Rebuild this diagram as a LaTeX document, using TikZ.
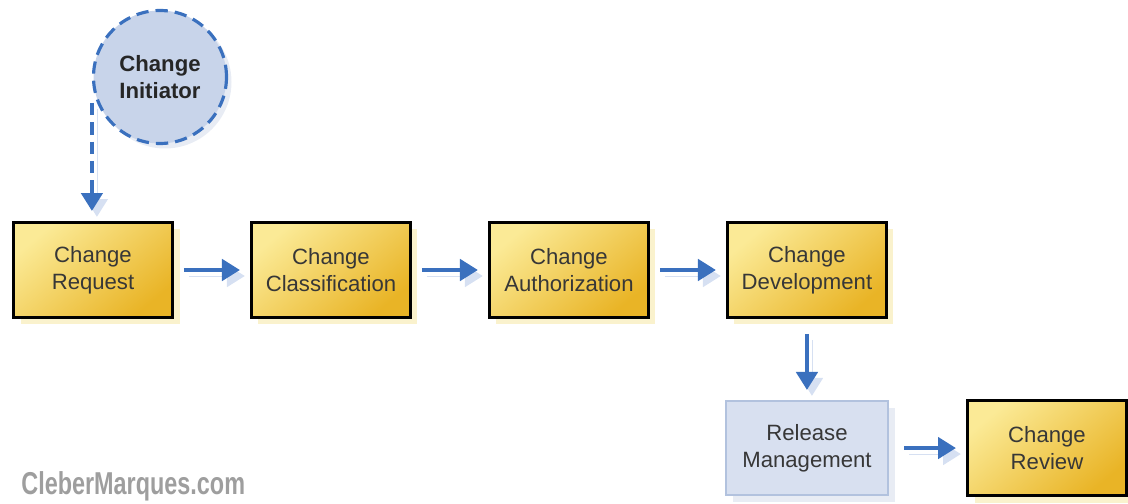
\documentclass[tikz,border=0pt]{standalone}
\usepackage{fontspec}
\setmainfont{Liberation Sans}
\newfontfamily\markfont[FakeStretch=0.74]{Liberation Sans Bold}
\usetikzlibrary{arrows.meta,positioning,shadows}

\definecolor{chgLight}{RGB}{251,234,150}
\definecolor{chgDark}{RGB}{233,180,38}
\definecolor{chgShadow}{RGB}{250,242,205}
\definecolor{relFill}{RGB}{216,224,240}
\definecolor{relLine}{RGB}{178,194,222}
\definecolor{relShadow}{RGB}{232,236,244}
\definecolor{flowBlue}{RGB}{58,112,190}
\definecolor{flowShade}{RGB}{214,224,242}
\definecolor{initFill}{RGB}{200,212,234}
\definecolor{textGray}{RGB}{55,55,55}

\begin{document}
\begin{tikzpicture}[font=\fontsize{12.6}{15.5}\selectfont,
  step box/.style={draw=black, line width=1.7pt, minimum width=3.18cm, minimum height=1.9cm,
    inner xsep=1pt, align=center, text=textGray, top color=chgLight, bottom color=chgDark, shading angle=40,
    drop shadow={fill=chgShadow, opacity=1, shadow xshift=0.14cm, shadow yshift=-0.14cm}},
  release box/.style={draw=relLine, line width=1.2pt, fill=relFill, minimum width=3.24cm,
    minimum height=1.88cm, inner xsep=1pt, align=center, text=textGray,
    drop shadow={fill=relShadow, opacity=1, shadow xshift=0.14cm, shadow yshift=-0.14cm}},
  initiator/.style={circle, draw=flowBlue, dashed, dash pattern=on 7pt off 4pt, line width=1.8pt,
    fill=initFill, minimum size=2.66cm, align=center, font=\fontsize{12.6}{15.5}\selectfont\bfseries,
    text=black!85, drop shadow={fill=relShadow, opacity=1, shadow xshift=0.1cm, shadow yshift=-0.1cm}},
  flow/.style={-{Triangle[length=0.36cm,width=0.42cm]}, line width=2.6pt, draw=flowBlue,
    shorten <=0.2cm, shorten >=0.2cm,
    preaction={draw=flowShade, transform canvas={shift={(0.1cm,-0.12cm)}}}}]
\useasboundingbox (0,0) rectangle (22.56,-10.08);

% initiator and main row
\node[initiator] (init) at (3.2,-1.54) {Change\\Initiator};
\node[step box] (req) at (1.86,-5.40) {Change\\Request};
\node[step box, right=1.52cm of req] (cls) {Change\\Classification};
\node[step box, right=1.52cm of cls] (auth) {Change\\Authorization};
\node[step box, right=1.52cm of auth] (dev) {Change\\Development};

% lower row
\node[release box, below=1.62cm of dev] (rel) {Release\\Management};
\node[step box, right=1.54cm of rel] (rev) {Change\\Review};

% connectors
\draw[flow, dashed, dash pattern=on 7pt off 4pt, shorten <=0.52cm] (init.west) -- (init.west |- req.north);
\draw[flow] (req) -- (cls);
\draw[flow] (cls) -- (auth);
\draw[flow] (auth) -- (dev);
\draw[flow, shorten <=0.3cm] (dev.south -| rel.north) -- (rel.north);
\draw[flow, shorten <=0.3cm] (rel) -- (rev);

% watermark
\node[anchor=base west, inner sep=0pt, text=black!38, font=\fontsize{18}{20}\markfont] (mark) at (0.42,-9.9) {CleberMarques.com};
\end{tikzpicture}
\end{document}
